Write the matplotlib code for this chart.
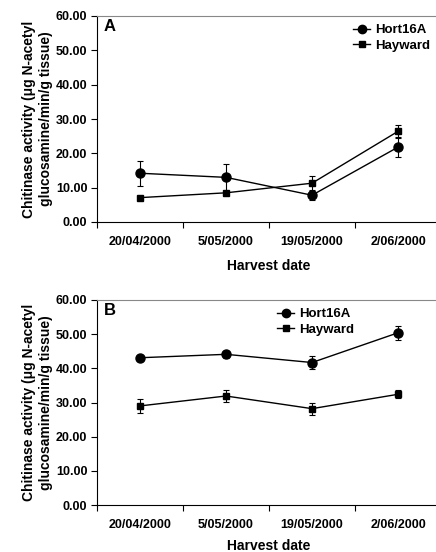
import numpy as np
import matplotlib.pyplot as plt
from matplotlib.lines import Line2D

plt.rcParams['font.family'] = ['Liberation Sans', 'DejaVu Sans']
plt.rcParams['font.weight'] = 'bold'

dates = ["20/04/2000", "5/05/2000", "19/05/2000", "2/06/2000"]

# panel A
hort_a = [14.2, 13.0, 7.8, 21.8]
hort_a_err = [3.7, 3.9, 1.3, 2.9]
hay_a = [7.1, 8.5, 11.3, 26.4]
hay_a_err = [0.3, 0.5, 2.0, 1.8]

# panel B
hort_b = [43.1, 44.1, 41.7, 50.4]
hort_b_err = [0.6, 1.0, 1.8, 2.1]
hay_b = [29.0, 31.9, 28.2, 32.4]
hay_b_err = [2.1, 1.8, 1.8, 1.2]

W, H = 436, 552
fig = plt.figure(figsize=(W / 100, H / 100), dpi=100)


def panel(top, bottom, hort, hort_err, hay, hay_err, label, leg_x, xlpad):
    ax = fig.add_axes([97 / W, 1 - bottom / H, (441 - 97) / W, (bottom - top) / H])
    x = np.arange(len(dates))
    ax.errorbar(x, hort, yerr=hort_err, color='black', lw=1, marker='o', ms=6.5,
                capsize=2, elinewidth=0.8, capthick=0.8)
    ax.errorbar(x, hay, yerr=hay_err, color='black', lw=1, marker='s', ms=5,
                capsize=2, elinewidth=0.8, capthick=0.8)
    ax.set_xlim(-0.5, 3.5)
    ax.set_ylim(0, 60)
    ax.set_yticks(np.arange(0, 61, 10))
    ax.set_yticklabels([f"{v:.2f}" for v in np.arange(0, 61, 10)], fontsize=9,
                       fontweight='bold')
    ax.set_xticks([-0.5, 0.5, 1.5, 2.5, 3.5])
    ax.set_xticklabels([])
    ax.set_xticks(x, minor=True)
    ax.set_xticklabels(dates, minor=True, fontsize=9, fontweight='bold')
    ax.tick_params(axis='x', which='minor', length=0, pad=10)
    ax.tick_params(axis='both', which='major', direction='out', length=4, width=0.8)
    ax.tick_params(axis='y', pad=3)
    ax.spines['right'].set_visible(False)
    ax.spines['top'].set_color('#888888')
    ax.spines['top'].set_linewidth(0.8)
    ax.set_xlabel("Harvest date", fontsize=10, fontweight='bold', labelpad=xlpad)
    ax.set_ylabel("Chitinase activity (\u03bcg N-acetyl\nglucosamine/min/g tissue)",
                  fontsize=10, fontweight='bold', labelpad=2, linespacing=1.3)
    ax.text(0.02, 0.985, label, transform=ax.transAxes, fontsize=12,
            fontweight='bold', va='top', ha='left')
    handles = [Line2D([], [], color='black', lw=1, marker='o', ms=6),
               Line2D([], [], color='black', lw=1, marker='s', ms=4.5)]
    ax.legend(handles, ['Hort16A', 'Hayward'], loc='upper left',
              bbox_to_anchor=((leg_x - 97) / 344, 0.96), frameon=False,
              fontsize=9.5, handlelength=1.3, handletextpad=0.4, labelspacing=0.25,
              borderaxespad=0, borderpad=0)
    return ax


panel(16, 222, hort_a, hort_a_err, hay_a, hay_a_err, 'A', 353, 8)
panel(300, 505, hort_b, hort_b_err, hay_b, hay_b_err, 'B', 277, 6)

fig.savefig("out.png", dpi=100)
